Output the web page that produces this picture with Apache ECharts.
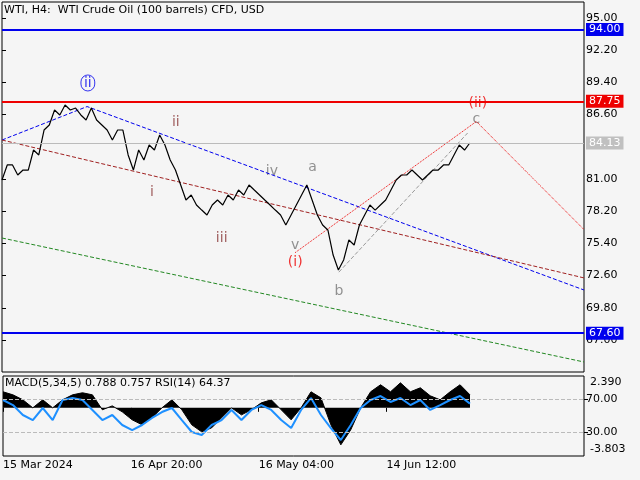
<!DOCTYPE html><html><head><meta charset="utf-8"><script src="https://cdn.jsdelivr.net/npm/echarts@6/dist/echarts.min.js"></script>
<style>body{margin:0;background:#f5f5f5}#c{width:640px;height:480px}</style></head><body><div id="c"></div><script>
const prices=[80.91,82.22,82.22,81.35,81.78,81.78,83.52,83.09,85.26,85.70,87.00,86.57,87.43,87.00,87.17,86.57,86.13,87.17,86.13,85.70,85.26,84.39,85.26,85.26,83.09,81.78,83.52,82.65,83.96,83.52,84.83,83.96,82.65,81.78,80.48,79.17,79.61,78.74,78.30,77.87,78.74,79.17,78.74,79.61,79.17,80.04,79.61,80.48,80.04,79.61,79.17,78.74,78.30,77.87,77.00,77.87,78.74,79.61,80.48,79.17,77.87,77.00,76.57,74.39,73.09,73.96,75.70,75.26,77.00,77.87,78.74,78.30,78.74,79.17,80.04,80.91,81.35,81.35,81.78,81.35,80.91,81.35,81.78,81.78,82.22,82.22,83.09,83.96,83.52,84.13];
const lastBar=643;
const macd=[1.48,1.20,0.74,0,0.74,0,0.74,1.20,1.39,1.20,-0.18,0.18,-0.37,-1.11,-1.57,-0.92,0,0.74,-0.18,-1.57,-2.22,-1.85,-0.92,0,-0.65,-0.18,0.46,0.74,-0.18,-1.11,0,1.48,0.92,-1.57,-3.42,-2.03,0,1.48,2.13,1.48,2.31,1.48,1.85,1.11,0.74,1.48,2.13,1.20];
const rsi=[68.8,62.7,50.6,44.5,59.1,44.5,68.8,71.2,68.8,56.7,44.5,50.6,38.5,32.4,38.5,47.0,54.2,59.1,44.5,30.0,26.4,38.5,44.5,56.7,44.5,56.7,62.7,56.7,44.5,34.8,56.7,71.2,50.6,34.8,20.3,38.5,59.1,68.8,73.6,66.4,71.2,62.7,68.8,56.7,62.7,68.8,73.6,64.37];
const priceTicks=[95.00,92.20,89.40,86.60,81.00,78.20,75.40,72.60,69.80,67.00];
const timeTicks=[0,176,352,528];
const timeLabels=['15 Mar 2024','16 Apr 20:00','16 May 04:00','14 Jun 12:00'];
const levels=[{v:94.00,c:'#0000ee'},{v:87.75,c:'#ee0000'},{v:67.60,c:'#0000ee'}];
const waves=[{t:'ii',x:118,y:89.35,c:'#0000ee',circ:true},{t:'ii',x:239,y:85.96,c:'#8b3a3a'},{t:'i',x:206,y:79.87,c:'#8b3a3a'},{t:'iii',x:302,y:75.87,c:'#8b3a3a'},{t:'iv',x:371,y:81.70,c:'#777'},{t:'v',x:403,y:75.26,c:'#777'},{t:'(i)',x:403,y:73.78,c:'#ee0000'},{t:'a',x:427,y:82.04,c:'#777'},{t:'b',x:463,y:71.26,c:'#777'},{t:'c',x:652,y:86.22,c:'#777'},{t:'(ii)',x:654,y:87.6,c:'#ee0000'}];
const trend=[
 {c:'#0000ee',p:[[0,84.39],[117,87.3],[800,71.35]],t:'dashed'},
 {c:'#a02020',p:[[0,84.39],[800,72.4]],t:'dashed'},
 {c:'#228822',p:[[0,75.87],[800,65.09]],t:'dashed'},
 {c:'#ee0000',p:[[403,74.6],[652,86.0],[800,76.6]],t:'dotted'},
 {c:'#999',p:[[463,72.9],[640,85.0]],t:'dashed'}];
const step=lastBar/(prices.length-1), istep=lastBar/(macd.length-1);
const ch=echarts.init(document.getElementById('c'));
const ff='DejaVu Sans';
const series=[];
trend.forEach(l=>series.push({type:'line',xAxisIndex:0,yAxisIndex:0,data:l.p,symbol:'none',silent:true,lineStyle:{color:l.c,width:1,type:l.t}}));
series.push({type:'line',xAxisIndex:0,yAxisIndex:0,data:prices.map((v,i)=>[i*step,v]),symbol:'none',lineStyle:{color:'#000',width:1.2},
 markLine:{symbol:'none',silent:true,data:[...levels.map(l=>({yAxis:l.v,lineStyle:{color:l.c,width:2,type:'solid'},label:{show:true,position:'end',formatter:l.v.toFixed(2),color:'#fff',backgroundColor:l.c,padding:[1,3],fontFamily:ff,fontSize:11,distance:2}})),
 {yAxis:84.13,lineStyle:{color:'#bbb',width:1,type:'solid'},label:{show:true,position:'end',formatter:'84.13',color:'#fff',backgroundColor:'#c0c0c0',padding:[1,3],fontFamily:ff,fontSize:11,distance:2}}]}});
series.push({type:'scatter',xAxisIndex:0,yAxisIndex:0,symbolSize:0,silent:true,data:waves.map(w=>({value:[w.x,w.y],label:{show:true,position:'inside',formatter:w.t,color:w.c,fontSize:14,fontFamily:ff,borderColor:w.circ?w.c:'transparent',borderWidth:w.circ?1:0,borderRadius:10,padding:w.circ?[1,3]:0}}))});
series.push({type:'line',xAxisIndex:1,yAxisIndex:1,data:macd.map((v,i)=>[i*istep,v]),symbol:'none',lineStyle:{color:'#000',width:1},areaStyle:{color:'#000',opacity:1,origin:0},
 markLine:{symbol:'none',silent:true,label:{show:false},lineStyle:{color:'#bbb',type:'dashed',width:1},data:[]}});
series.push({type:'line',xAxisIndex:1,yAxisIndex:2,data:rsi.map((v,i)=>[i*istep,v]),symbol:'none',lineStyle:{color:'#1e90ff',width:2},
 markLine:{symbol:'none',silent:true,label:{show:false},lineStyle:{color:'#bbb',type:'dashed',width:1},data:[{yAxis:70},{yAxis:30}]}});
ch.setOption({backgroundColor:'#f5f5f5',animation:false,
 graphic:[{type:'text',left:4,top:5,style:{text:'WTI, H4:  WTI Crude Oil (100 barrels) CFD, USD',font:'11px DejaVu Sans',fill:'#000'}},
 {type:'text',left:5,top:378,style:{text:'MACD(5,34,5) 0.788 0.757 RSI(14) 64.37',font:'11px DejaVu Sans',fill:'#000'}}],
 grid:[{left:2,top:2,width:582,height:370,show:true,borderColor:'#000',borderWidth:1},{left:2,top:376,width:582,height:80,show:true,borderColor:'#000',borderWidth:1}],
 xAxis:[{type:'value',gridIndex:0,min:0,max:800,show:false},
 {type:'value',gridIndex:1,min:0,max:800,splitLine:{show:false},axisLine:{show:false},axisTick:{show:true,customValues:timeTicks,length:4,lineStyle:{color:'#000'}},axisLabel:{customValues:timeTicks,formatter:v=>timeLabels[timeTicks.indexOf(v)],color:'#000',fontFamily:ff,fontSize:11,align:'left',margin:4}}],
 yAxis:[{type:'value',gridIndex:0,position:'right',min:64.22,max:96.39,splitLine:{show:false},axisLine:{show:false},axisTick:{show:true,customValues:priceTicks,length:4,lineStyle:{color:'#000'}},axisLabel:{customValues:priceTicks,formatter:v=>v.toFixed(2),color:'#000',fontFamily:ff,fontSize:11,margin:2}},
 {type:'value',gridIndex:1,position:'right',min:-4.45,max:2.94,splitLine:{show:false},axisLine:{show:false},axisTick:{show:false},axisLabel:{customValues:[2.39,-3.803],formatter:v=>v.toFixed(3),color:'#000',fontFamily:ff,fontSize:11,margin:6}},
 {type:'value',gridIndex:1,position:'right',min:0.9,max:97.9,splitLine:{show:false},axisLine:{show:false},axisTick:{show:true,customValues:[70,30],length:4,lineStyle:{color:'#000'}},axisLabel:{customValues:[70,30],formatter:v=>v.toFixed(2),color:'#000',fontFamily:ff,fontSize:11,margin:2}}],
 series});
</script></body></html>
